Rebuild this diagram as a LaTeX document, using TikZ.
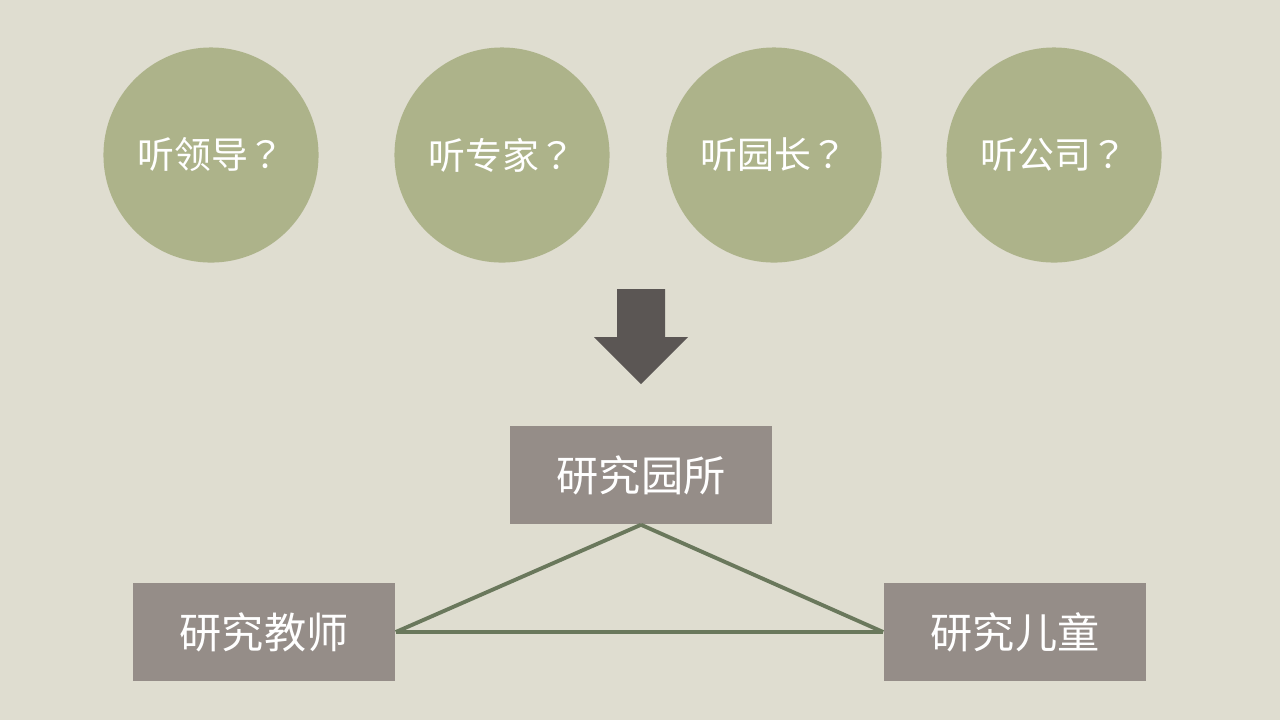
\documentclass[tikz,border=0pt]{standalone}
\usepackage{fontspec}
\setmainfont{Noto Sans CJK SC}
\newfontfamily\qfont{Noto Sans CJK TC}
\newcommand{\qm}{{\qfont ？}}
\usetikzlibrary{positioning}
\definecolor{bgcol}{HTML}{DFDDD0}
\definecolor{olive}{HTML}{ADB38A}
\definecolor{boxgray}{HTML}{958D88}
\definecolor{arrowgray}{HTML}{5B5654}
\definecolor{linegreen}{HTML}{6A785C}

\begin{document}
\begin{tikzpicture}[x=0.01cm,y=-0.01cm]
  \tikzstyle{ask}=[circle,fill=olive,minimum size=2.15cm,inner sep=0pt,text=white,font=\fontsize{10.5pt}{12pt}\selectfont]
  \tikzstyle{study}=[fill=boxgray,minimum width=2.62cm,minimum height=0.98cm,inner sep=0pt,text=white,font=\fontsize{12pt}{14pt}\selectfont]
  \tikzstyle{link}=[draw=linegreen,line width=1.1pt]
  \fill[bgcol] (0,0) rectangle (1280,720);
  \node[ask] (leader) at (211,155) {听领导\qm};
  \node[ask] (expert) at (502,155) {听专家\qm};
  \node[ask] (head) at (774,155) {听园长\qm};
  \node[ask] (company) at (1054,155) {听公司\qm};
  % big arrow
  \fill[arrowgray] (617,289) -- (665,289) -- (665,337) -- (688,337) -- (641,384)
    -- (594,337) -- (617,337) -- cycle;
  \node[study] (garden) at (641,475) {研究园所};
  \node[study] (teacher) at (264,632) {研究教师};
  \node[study] (child) at (1015,632) {研究儿童};
  \draw[link] (garden.south) -- (teacher.east);
  \draw[link] (garden.south) -- (child.west);
  \draw[link] (teacher.east) -- (child.west);
\end{tikzpicture}
\end{document}
